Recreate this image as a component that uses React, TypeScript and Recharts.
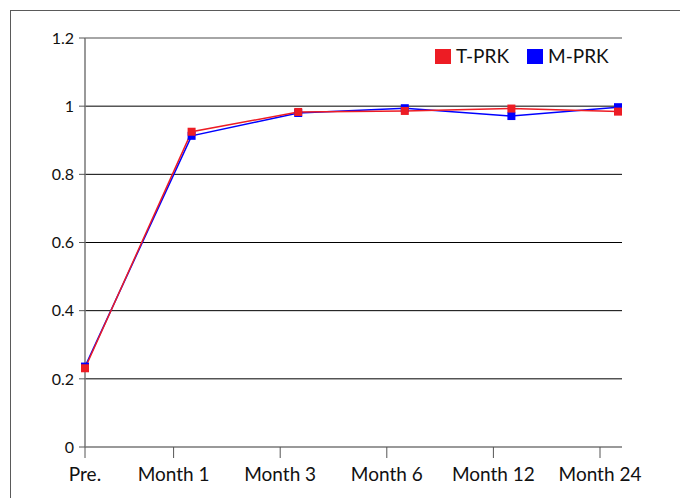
import React from 'react';
import {
  LineChart,
  Line,
  XAxis,
  YAxis,
  CartesianGrid,
  ReferenceLine
} from 'recharts';

const categories = ['Pre.', 'Month 1', 'Month 3', 'Month 6', 'Month 12', 'Month 24'];
const tprk = [0.231, 0.925, 0.983, 0.986, 0.993, 0.984];
const mprk = [0.236, 0.913, 0.98, 0.994, 0.971, 0.997];
const yTicks = [0, 0.2, 0.4, 0.6, 0.8, 1, 1.2];
const gridValues = [0.2, 0.4, 0.6, 0.8, 1];

const seriesNames = ['T-PRK', 'M-PRK'];
const seriesColors: Record<string, string> = { 'T-PRK': '#ED1C24', 'M-PRK': '#0000FF' };

const chartData = categories.map((name, i) => ({
  name,
  tprk: tprk[i],
  mprk: mprk[i]
}));

const FONT = 'Lato, "DejaVu Sans", sans-serif';

function squareDot(color: string) {
  return (props: any) => {
    const { cx, cy, index } = props;
    if (cx == null || cy == null) return <g key={index} />;
    return <rect key={index} x={cx - 4} y={cy - 4} width={8} height={8} fill={color} />;
  };
}

// the original's category ticks sit a little left of the data points
function MonthTick(props: any) {
  const { x, y, payload, index } = props;
  const shift = index === 0 ? 0 : -18;
  return (
    <g>
      <line x1={x + shift} x2={x + shift} y1={y - 21} y2={y - 10} stroke="#555" />
      <text x={x + shift} y={y} dy="0.71em" textAnchor="middle" fill="#111" fontSize={19} fontFamily={FONT}>
        {payload.value}
      </text>
    </g>
  );
}

function LegendBox() {
  return (
    <div
      style={{
        position: 'absolute',
        top: 45,
        left: 435,
        display: 'flex',
        alignItems: 'center',
        fontFamily: FONT,
        fontSize: 19,
        lineHeight: '22px',
        color: '#111'
      }}
    >
      {seriesNames.map(n => (
        <div key={n} style={{ display: 'flex', alignItems: 'center', marginRight: 18 }}>
          <span style={{ width: 16, height: 15, background: seriesColors[n], display: 'inline-block', marginRight: 5 }} />
          <span>{n}</span>
        </div>
      ))}
    </div>
  );
}

export default function App() {
  return (
    <div style={{ position: 'fixed', left: 0, top: 0, width: 680, height: 498, overflow: 'hidden', background: '#fff' }}>
      <div
        style={{
          position: 'absolute',
          left: 10,
          top: 10,
          width: 720,
          height: 540,
          border: '1.5px solid #5a5a5a'
        }}
      />
      <div style={{ position: 'absolute', left: 0, top: 0 }}>
        <LineChart
          width={680}
          height={498}
          data={chartData}
          margin={{ top: 38, right: 58, bottom: 11, left: 0 }}
          style={{ fontFamily: FONT }}
        >
          <CartesianGrid vertical={false} horizontalValues={gridValues} stroke="#000" strokeWidth={1} />
          <XAxis
            dataKey="name"
            padding={{ left: 0, right: 4 }}
            height={40}
            tickSize={11}
            tickMargin={10}
            axisLine={{ stroke: '#777', strokeWidth: 1.5 }}
            tickLine={false}
            tick={<MonthTick />}
            interval={0}
          />
          <YAxis
            domain={[0, 1.2]}
            ticks={yTicks}
            width={85}
            tickSize={6}
            tickMargin={5}
            axisLine={{ stroke: '#777', strokeWidth: 1.5 }}
            tickLine={{ stroke: '#555' }}
            tick={{ fill: '#111', fontSize: 16 }}
          />
          <YAxis
            yAxisId="right"
            orientation="right"
            type="number"
            domain={[0, 1.2]}
            width={0}
            tick={false}
            tickLine={false}
            axisLine={{ stroke: '#888', strokeWidth: 1.5 }}
          />
          <ReferenceLine y={1.2} stroke="#888" strokeWidth={1.5} />
          <Line
            type="linear"
            dataKey="mprk"
            name="M-PRK"
            stroke={seriesColors['M-PRK']}
            strokeWidth={1.5}
            dot={squareDot(seriesColors['M-PRK'])}
            activeDot={false}
            isAnimationActive={false}
          />
          <Line
            type="linear"
            dataKey="tprk"
            name="T-PRK"
            stroke={seriesColors['T-PRK']}
            strokeWidth={1.5}
            dot={squareDot(seriesColors['T-PRK'])}
            activeDot={false}
            isAnimationActive={false}
          />
        </LineChart>
      </div>
      <LegendBox />
    </div>
  );
}
